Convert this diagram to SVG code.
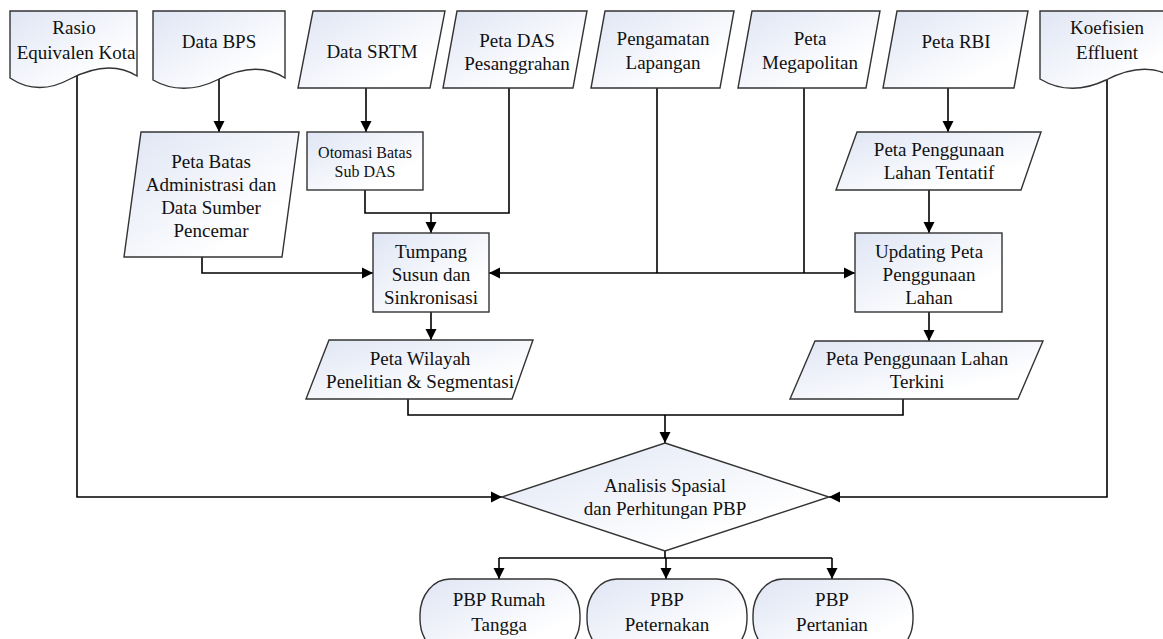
<svg xmlns="http://www.w3.org/2000/svg" width="1163" height="639" viewBox="0 0 1163 639">
<defs>
<linearGradient id="g" x1="0" y1="0" x2="1" y2="1">
<stop offset="0" stop-color="#dfe5f4"/>
<stop offset="0.75" stop-color="#ffffff"/>
</linearGradient>
<marker id="ar" markerUnits="userSpaceOnUse" markerWidth="12" markerHeight="12" viewBox="0 0 12 12" refX="11" refY="6" orient="auto">
<path d="M0,0.5 L11,6 L0,11.5 Z" fill="#000"/>
</marker>
</defs>
<style>
.n{fill:url(#g);stroke:#333;stroke-width:1.4}
.c{fill:none;stroke:#000;stroke-width:1.6}
.a{marker-end:url(#ar)}
text{font-family:"Liberation Serif","Times New Roman",serif;font-size:19px;fill:#111;text-anchor:middle}
.s{font-size:16px}
</style>
<rect width="1163" height="639" fill="#fff"/>

<g id="connectors">
<path class="c a" d="M77,75 V497 H502"/>
<path class="c a" d="M219,75 V132"/>
<path class="c a" d="M366,88 V132"/>
<path class="c" d="M365,190 V213 H509 V88"/>
<path class="c a" d="M431,213 V233"/>
<path class="c a" d="M202,257 V273 H373"/>
<path class="c" d="M657,88 V273"/>
<path class="c" d="M804,88 V273"/>
<path class="c a" d="M657,273 H489"/>
<path class="c a" d="M657,273 H855"/>
<path class="c a" d="M948,88 V132"/>
<path class="c a" d="M929,190 V233"/>
<path class="c a" d="M431,312 V340"/>
<path class="c a" d="M929,312 V341"/>
<path class="c" d="M408,399 V415 H903 V399"/>
<path class="c a" d="M665,415 V443"/>
<path class="c a" d="M1107,75 V497 H829"/>
<path class="c" d="M665,551 V558 M499,558 H832"/>
<path class="c a" d="M499,558 V579"/>
<path class="c a" d="M666,558 V579"/>
<path class="c a" d="M832,558 V579"/>
</g>

<g id="rasio">
<path class="n" d="M10,11 H137 V76 C118,64 95,66 70,79 C48,91 28,90 10,78 Z"/>
<text x="74" y="34">Rasio</text>
<text x="76" y="59">Equivalen Kota</text>
</g>
<g id="data-bps">
<path class="n" d="M153,11 H285 V78 C265,65 242,67 217,80 C195,91 172,91 153,80 Z"/>
<text x="219" y="48">Data BPS</text>
</g>
<g id="data-srtm">
<polygon class="n" points="313,11 445,11 430,88 298,88"/>
<text x="372" y="58">Data SRTM</text>
</g>
<g id="peta-das">
<polygon class="n" points="457,11 587,11 573,88 443,88"/>
<text x="517" y="47">Peta DAS</text>
<text x="517" y="70">Pesanggrahan</text>
</g>
<g id="pengamatan">
<polygon class="n" points="605,11 734,11 720,88 591,88"/>
<text x="663" y="45">Pengamatan</text>
<text x="663" y="69">Lapangan</text>
</g>
<g id="megapolitan">
<polygon class="n" points="752,11 880,11 866,88 738,88"/>
<text x="810" y="45">Peta</text>
<text x="810" y="69">Megapolitan</text>
</g>
<g id="peta-rbi">
<polygon class="n" points="897,11 1028,11 1014,88 883,88"/>
<text x="956" y="48">Peta RBI</text>
</g>
<g id="koefisien">
<path class="n" d="M1040,11 H1174 V78 C1154,65 1131,67 1106,80 C1083,91 1060,91 1040,79 Z"/>
<text x="1107" y="34">Koefisien</text>
<text x="1107" y="59">Effluent</text>
</g>

<g id="peta-batas">
<polygon class="n" points="141,132 299,132 282,257 124,257"/>
<text x="211" y="168">Peta Batas</text>
<text x="211" y="191">Administrasi dan</text>
<text x="211" y="214">Data Sumber</text>
<text x="211" y="237">Pencemar</text>
</g>
<g id="otomasi">
<rect class="n" x="307" y="132" width="116" height="58"/>
<text class="s" x="365" y="158">Otomasi Batas</text>
<text class="s" x="365" y="177">Sub DAS</text>
</g>
<g id="tentatif">
<polygon class="n" points="857,132 1041,132 1021,190 836,190"/>
<text x="939" y="156">Peta Penggunaan</text>
<text x="939" y="179">Lahan Tentatif</text>
</g>

<g id="tumpang">
<rect class="n" x="373" y="233" width="116" height="79"/>
<text x="431" y="258">Tumpang</text>
<text x="431" y="281">Susun dan</text>
<text x="431" y="304">Sinkronisasi</text>
</g>
<g id="updating">
<rect class="n" x="855" y="233" width="147" height="79"/>
<text x="929" y="258">Updating Peta</text>
<text x="929" y="281">Penggunaan</text>
<text x="929" y="304">Lahan</text>
</g>

<g id="peta-wilayah">
<polygon class="n" points="329,340 533,340 512,399 306,399"/>
<text x="420" y="365">Peta Wilayah</text>
<text x="420" y="388">Penelitian &amp; Segmentasi</text>
</g>
<g id="peta-terkini">
<polygon class="n" points="815,341 1043,341 1018,399 790,399"/>
<text x="917" y="365">Peta Penggunaan Lahan</text>
<text x="917" y="388">Terkini</text>
</g>

<g id="analisis">
<polygon class="n" points="665,443 829,497 665,551 502,497"/>
<text x="665" y="492">Analisis Spasial</text>
<text x="665" y="515">dan Perhitungan PBP</text>
</g>

<g id="pbp-rumah">
<rect class="n" x="420" y="579" width="160" height="76" rx="30" ry="36"/>
<text x="499" y="606">PBP Rumah</text>
<text x="499" y="631">Tangga</text>
</g>
<g id="pbp-peternakan">
<rect class="n" x="587" y="579" width="160" height="76" rx="30" ry="36"/>
<text x="667" y="606">PBP</text>
<text x="667" y="631">Peternakan</text>
</g>
<g id="pbp-pertanian">
<rect class="n" x="753" y="579" width="160" height="76" rx="30" ry="36"/>
<text x="832" y="606">PBP</text>
<text x="832" y="631">Pertanian</text>
</g>
</svg>
